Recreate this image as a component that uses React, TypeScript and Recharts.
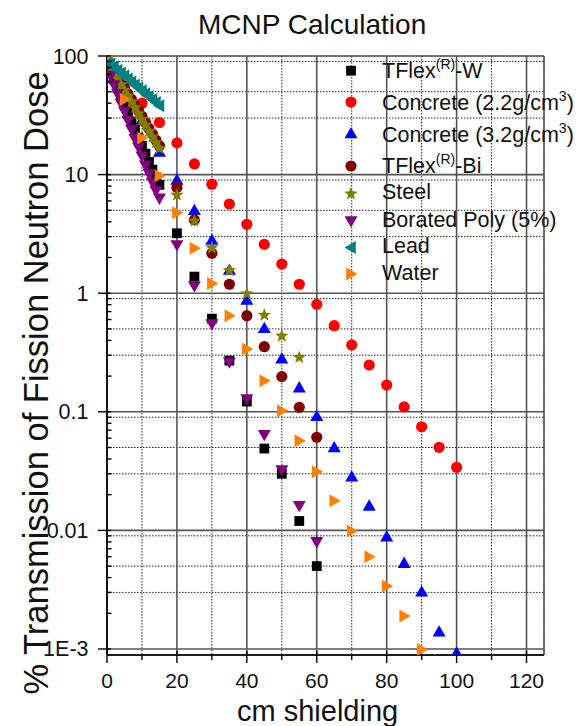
import React from 'react';
import { ScatterChart, Scatter, XAxis, YAxis, CartesianGrid } from 'recharts';

const FONT = '"Liberation Sans", Arial, Helvetica, sans-serif';

// ---- data (cm shielding, % transmission) ----
const tflexWX = [0, 1, 2, 3, 4, 5, 6, 7, 8, 9, 10, 11, 12, 13, 14, 15, 20, 25, 30, 35, 40, 45, 50, 55, 60];
const tflexWY = [88, 75, 64, 54, 46, 39, 33, 28, 24, 20.5, 17.5, 15, 12.8, 11, 9.5, 8.2, 3.2, 1.38, 0.61, 0.27, 0.122, 0.049, 0.03, 0.012, 0.005];

const concrete22X = [0, 5, 10, 15, 20, 25, 30, 35, 40, 45, 50, 55, 60, 65, 70, 75, 80, 85, 90, 95, 100];
const concrete22Y = [100, 64, 40, 27.5, 18.5, 12.3, 8.3, 5.65, 3.81, 2.58, 1.76, 1.19, 0.805, 0.532, 0.366, 0.248, 0.168, 0.11, 0.0748, 0.0502, 0.034];

const concrete32X = [0, 5, 10, 15, 20, 25, 30, 35, 40, 45, 50, 55, 60, 65, 70, 75, 80, 85, 90, 95, 100];
const concrete32Y = [100, 55, 29, 15.5, 9.0, 5.0, 2.81, 1.57, 0.877, 0.506, 0.281, 0.16, 0.0918, 0.05, 0.0284, 0.0161, 0.00886, 0.0053, 0.00304, 0.0014, 0.00093];

const tflexBiX = [0, 1, 2, 3, 4, 5, 6, 7, 8, 9, 10, 11, 12, 13, 14, 15, 20, 25, 30, 35, 40, 45, 50, 55, 60];
const tflexBiY = [94, 84, 75, 67, 60, 54, 48, 43, 38.5, 34.5, 31, 27.5, 24.5, 22, 19.5, 17.5, 7.8, 4.15, 2.17, 1.19, 0.646, 0.354, 0.198, 0.109, 0.061];

const steelX = [0, 1, 2, 3, 4, 5, 6, 7, 8, 9, 10, 11, 12, 13, 14, 15, 20, 25, 30, 35, 40, 45, 50, 55];
const steelY = [92, 82, 73, 65, 58, 52, 46.5, 41.5, 37, 33, 29.5, 26.5, 23.5, 21, 18.8, 16.8, 6.8, 4.1, 2.44, 1.57, 1.0, 0.66, 0.44, 0.29];

const boratedX = [0, 1, 2, 3, 4, 5, 6, 7, 8, 9, 10, 11, 12, 13, 14, 15, 20, 25, 30, 35, 40, 45, 50, 55, 60];
const boratedY = [82, 68, 57, 48, 40, 34, 28.5, 24, 20, 17, 14.3, 12, 10.2, 8.6, 7.3, 6.3, 2.55, 1.15, 0.55, 0.262, 0.128, 0.064, 0.0323, 0.0161, 0.008];

const leadX = [0, 1, 2, 3, 4, 5, 6, 7, 8, 9, 10, 11, 12, 13, 14, 15];
const leadY = [92, 86, 81, 76, 72, 68, 64, 60.5, 57, 54, 51, 48, 45.5, 43, 40.5, 38];

const waterX = [0, 5, 10, 15, 20, 25, 30, 35, 40, 45, 50, 55, 60, 65, 70, 75, 80, 85, 90, 95];
const waterY = [100, 43, 20.4, 9.8, 4.76, 2.39, 1.21, 0.646, 0.339, 0.183, 0.102, 0.057, 0.0313, 0.0178, 0.0099, 0.006, 0.0034, 0.0019, 0.00099, 0.0008];

// ---- ticks ----
const X_TICKS = [0, 10, 20, 30, 40, 50, 60, 70, 80, 90, 100, 110, 120];
const X_MAJOR = [0, 20, 40, 60, 80, 100, 120];
const X_GRID_MAJOR = [20, 40, 60, 80, 100, 120];
const X_GRID_MINOR = [10, 30, 50, 70, 90, 110];
const Y_MAJOR = [0.001, 0.01, 0.1, 1, 10, 100];
const Y_MAJOR_LABELS = ['1E-3', '0.01', '0.1', '1', '10', '100'];
const Y_MINOR = [
  0.002, 0.003, 0.004, 0.005, 0.006, 0.007, 0.008, 0.009,
  0.02, 0.03, 0.04, 0.05, 0.06, 0.07, 0.08, 0.09,
  0.2, 0.3, 0.4, 0.5, 0.6, 0.7, 0.8, 0.9,
  2, 3, 4, 5, 6, 7, 8, 9,
  20, 30, 40, 50, 60, 70, 80, 90,
];
const Y_TICKS = [...Y_MAJOR, ...Y_MINOR].sort((a, b) => a - b);
const X_DOMAIN = [0, 125];
const Y_DOMAIN = [0.00089, 100];

const pts = (xs: number[], ys: number[]) => xs.map((x, i) => ({ x, y: ys[i] }));

type Seg = { t: string; sup?: boolean };
const SERIES: { name: Seg[]; data: { x: number; y: number }[]; kind: string; color: string }[] = [
  { name: [{ t: 'TFlex' }, { t: '(R)', sup: true }, { t: '-W' }], data: pts(tflexWX, tflexWY), kind: 'square', color: '#000000' },
  { name: [{ t: 'Concrete (2.2g/cm' }, { t: '3', sup: true }, { t: ')' }], data: pts(concrete22X, concrete22Y), kind: 'circle', color: '#FF0000' },
  { name: [{ t: 'Concrete (3.2g/cm' }, { t: '3', sup: true }, { t: ')' }], data: pts(concrete32X, concrete32Y), kind: 'up', color: '#0000FF' },
  { name: [{ t: 'TFlex' }, { t: '(R)', sup: true }, { t: '-Bi' }], data: pts(tflexBiX, tflexBiY), kind: 'circle', color: '#800000' },
  { name: [{ t: 'Steel' }], data: pts(steelX, steelY), kind: 'star', color: '#808000' },
  { name: [{ t: 'Borated Poly (5%)' }], data: pts(boratedX, boratedY), kind: 'down', color: '#800080' },
  { name: [{ t: 'Lead' }], data: pts(leadX, leadY), kind: 'left', color: '#008080' },
  { name: [{ t: 'Water' }], data: pts(waterX, waterY), kind: 'right', color: '#FF8000' },
];

// legend layout
const LEGEND_MARK_X = 351;
const LEGEND_TEXT_X = 382;
const LEGEND_MARK_Y = [70.7, 102, 133.5, 166, 193.3, 221, 247.5, 274];
const LEGEND_TEXT_Y = [78.3, 110, 141.7, 172.7, 199.3, 226.7, 253.3, 280];

const Marker = ({ kind, color, cx, cy }: any) => {
  if (cx == null || cy == null || isNaN(cx) || isNaN(cy)) return null;
  switch (kind) {
    case 'square':
      return <rect x={cx - 4.9} y={cy - 4.9} width={9.8} height={9.8} fill={color} />;
    case 'circle':
      return <circle cx={cx} cy={cy} r={5.6} fill={color} />;
    case 'up':
      return <polygon points={`${cx},${cy - 6.5} ${cx + 6.5},${cy + 4.8} ${cx - 6.5},${cy + 4.8}`} fill={color} />;
    case 'down':
      return <polygon points={`${cx - 6.5},${cy - 4.8} ${cx + 6.5},${cy - 4.8} ${cx},${cy + 6.5}`} fill={color} />;
    case 'left':
      return <polygon points={`${cx - 6.5},${cy} ${cx + 4.8},${cy - 6.5} ${cx + 4.8},${cy + 6.5}`} fill={color} />;
    case 'right':
      return <polygon points={`${cx + 6.5},${cy} ${cx - 4.8},${cy - 6.5} ${cx - 4.8},${cy + 6.5}`} fill={color} />;
    case 'star': {
      const p: string[] = [];
      for (let i = 0; i < 10; i++) {
        const r = i % 2 === 0 ? 7 : 3;
        const a = -Math.PI / 2 + (i * Math.PI) / 5;
        p.push(`${cx + r * Math.cos(a)},${cy + 0.5 + r * Math.sin(a)}`);
      }
      return <polygon points={p.join(' ')} fill={color} />;
    }
    default:
      return null;
  }
};

const shapeFor = (kind: string, color: string) => (p: any) => <Marker kind={kind} color={color} cx={p.cx} cy={p.cy} />;

const XTick = (props: any) => {
  const { x, y, payload } = props;
  const v = payload.value;
  const major = X_MAJOR.includes(v);
  return (
    <g>
      <line x1={x} x2={x} y1={major ? y - 4 : y} y2={major ? y + 8 : y + 5} stroke="#000" strokeWidth={1.4} />
      {major && (
        <text x={x} y={y + 33} textAnchor="middle" fontSize={21} fontFamily={FONT} fill="#111">
          {String(v)}
        </text>
      )}
    </g>
  );
};

const YTick = (props: any) => {
  const { x, y, payload } = props;
  const v = payload.value;
  const idx = Y_MAJOR.findIndex((m) => Math.abs(m - v) / m < 1e-6);
  const major = idx >= 0;
  return (
    <g>
      <line x1={major ? x - 9 : x} x2={x + (major ? 4 : 4.5)} y1={y} y2={y} stroke="#000" strokeWidth={1.4} />
      {major && (
        <text x={x - 18.5} y={y + 7.5} textAnchor="end" fontSize={21.5} fontFamily={FONT} fill="#111">
          {Y_MAJOR_LABELS[idx]}
        </text>
      )}
    </g>
  );
};

const renderName = (segs: Seg[]) =>
  segs.map((s, i) => {
    if (s.sup) {
      return (
        <tspan key={i} dy={-9} fontSize={14}>
          {s.t}
        </tspan>
      );
    }
    const prevSup = i > 0 && segs[i - 1].sup;
    return (
      <tspan key={i} dy={prevSup ? 9 : 0} fontSize={21.5}>
        {s.t}
      </tspan>
    );
  });

export default function App() {
  return (
    <div style={{ position: 'absolute', left: 0, top: 0, width: 579, height: 726, background: '#fff', overflow: 'hidden' }}>
      <ScatterChart width={579} height={726} margin={{ top: 56, right: 35, bottom: 0, left: 0 }}>
        <XAxis
          xAxisId="main"
          type="number"
          dataKey="x"
          domain={X_DOMAIN}
          ticks={X_TICKS}
          interval={0}
          allowDataOverflow
          height={71}
          tickSize={0}
          tickMargin={0}
          tickLine={false}
          axisLine={{ stroke: '#000', strokeWidth: 1.6 }}
          tick={<XTick />}
        />
        <YAxis
          yAxisId="main"
          type="number"
          dataKey="y"
          scale="log"
          domain={Y_DOMAIN}
          ticks={Y_TICKS}
          interval={0}
          allowDataOverflow
          width={107}
          tickSize={0}
          tickMargin={0}
          tickLine={false}
          axisLine={{ stroke: '#000', strokeWidth: 1.6 }}
          tick={<YTick />}
        />
        <XAxis xAxisId="gmin" orientation="top" type="number" dataKey="x" domain={X_DOMAIN} ticks={X_GRID_MINOR} allowDataOverflow hide />
        <XAxis xAxisId="gmaj" orientation="top" type="number" dataKey="x" domain={X_DOMAIN} ticks={X_GRID_MAJOR} allowDataOverflow hide />
        <YAxis yAxisId="gmin" orientation="right" type="number" dataKey="y" scale="log" domain={Y_DOMAIN} ticks={Y_MINOR} allowDataOverflow hide />
        <YAxis yAxisId="gmaj" orientation="right" type="number" dataKey="y" scale="log" domain={Y_DOMAIN} ticks={Y_MAJOR} allowDataOverflow hide />
        <CartesianGrid xAxisId="gmin" yAxisId="gmin" stroke="#222" strokeDasharray="1.5 1.5" strokeWidth={1} />
        <CartesianGrid xAxisId="gmaj" yAxisId="gmaj" stroke="#555" strokeWidth={1.6} />
        {SERIES.map((s, i) => (
          <Scatter
            key={i}
            xAxisId="main"
            yAxisId="main"
            data={s.data}
            isAnimationActive={false}
            shape={shapeFor(s.kind, s.color)}
          />
        ))}
      </ScatterChart>
      <svg width={579} height={726} style={{ position: 'absolute', left: 0, top: 0, pointerEvents: 'none' }}>
        <text x={198} y={34} fontSize={28} fontFamily={FONT} fill="#111">
          MCNP Calculation
        </text>
        <text x={237} y={721} fontSize={29} fontFamily={FONT} fill="#111">
          cm shielding
        </text>
        <text
          transform="translate(48,383) rotate(-90)"
          textAnchor="middle"
          fontSize={34.5}
          fontFamily={FONT}
          fill="#111"
        >
          % Transmission of Fission Neutron Dose
        </text>
        {SERIES.map((s, i) => (
          <g key={i}>
            <Marker kind={s.kind} color={s.color} cx={LEGEND_MARK_X} cy={LEGEND_MARK_Y[i]} />
            <text x={LEGEND_TEXT_X} y={LEGEND_TEXT_Y[i]} fontFamily={FONT} fill="#111" fontSize={21.5}>
              {renderName(s.name)}
            </text>
          </g>
        ))}
      </svg>
    </div>
  );
}
